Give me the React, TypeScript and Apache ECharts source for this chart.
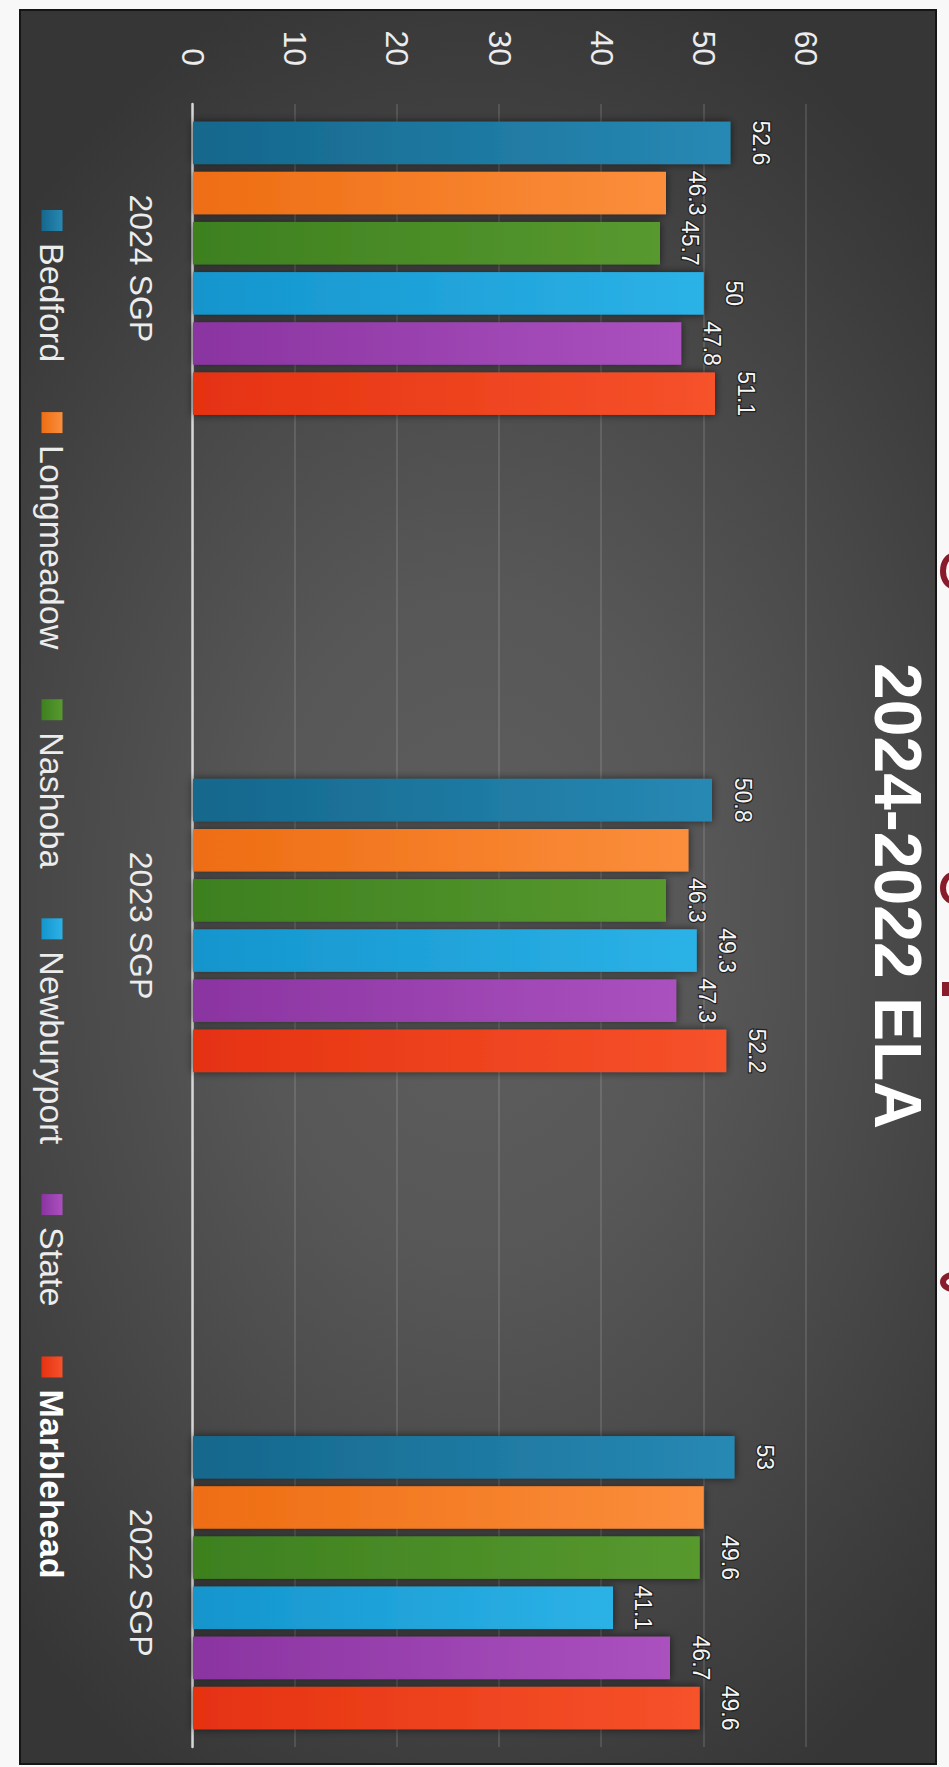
import React, { useEffect, useRef } from "react";
import * as echarts from "echarts";

// ---------- data ----------
const titleText = "2024-2022 ELA";
const categories = ["2024 SGP", "2023 SGP", "2022 SGP"];
const seriesNames = ["Bedford", "Longmeadow", "Nashoba", "Newburyport", "State", "Marblehead"];
const bedford = [52.6, 50.8, 53];
const longmeadow = [46.3, 48.5, 50.0];
const nashoba = [45.7, 46.3, 49.6];
const newburyport = [50, 49.3, 41.1];
const state = [47.8, 47.3, 46.7];
const marblehead = [51.1, 52.2, 49.6];
const valueTicks = [0, 10, 20, 30, 40, 50, 60];
// value labels that are not printed in the original (series, category index)
const hiddenLabels: [string, number][] = [
  ["Longmeadow", 1],
  ["Longmeadow", 2],
];

const seriesValues = [bedford, longmeadow, nashoba, newburyport, state, marblehead];

// ---------- style ----------
const FONT = '"Liberation Sans", Arial, Helvetica, sans-serif';
const barColors: [string, string][] = [
  ["#2789b4", "#15678c"],
  ["#fb8e3c", "#ee6d12"],
  ["#58992f", "#3d801f"],
  ["#2cb2e7", "#1495cd"],
  ["#ab51bf", "#8a34a1"],
  ["#f6522b", "#e53211"],
];

function buildOption(): any {
  const series = seriesNames.map((name, si) => ({
    type: "bar",
    name,
    barWidth: 42.5,
    barGap: "18%",
    data: seriesValues[si].map((v, ci) => {
      const hidden = hiddenLabels.some(([n, c]) => n === name && c === ci);
      const d: any = { value: [ci, v] };
      if (hidden) d.label = { show: false };
      return d;
    }),
    itemStyle: {
      color: {
        type: "linear",
        x: 0,
        y: 0,
        x2: 0,
        y2: 1,
        colorStops: [
          { offset: 0, color: barColors[si][0] },
          { offset: 1, color: barColors[si][1] },
        ],
      },
      shadowBlur: 8,
      shadowColor: "rgba(0,0,0,0.6)",
    },
    label: {
      show: true,
      position: "top",
      distance: 19,
      fontFamily: FONT,
      fontSize: 23,
      color: "#f4f4f4",
      textBorderColor: "rgba(25,25,25,0.85)",
      textBorderWidth: 2.5,
      formatter: (p: any) => String(p.value[1]),
    },
  }));

  return {
    animation: false,
    backgroundColor: "transparent",
    textStyle: { fontFamily: FONT },
    grid: {
      left: 104,
      right: 20,
      top: 143,
      bottom: 193,
      containLabel: false,
      outerBoundsMode: "none",
    },
    xAxis: {
      type: "value",
      min: -0.25,
      max: 2.25,
      interval: 0.25,
      position: "bottom",
      axisLine: { show: true, onZero: false, lineStyle: { color: "#d6d6d6", width: 2.5 } },
      axisTick: { show: false },
      splitLine: { show: false },
      axisLabel: {
        margin: 36,
        fontSize: 32,
        fontFamily: FONT,
        color: "#ececec",
        showMinLabel: true,
        showMaxLabel: true,
        formatter: (v: number) => {
          const i = Math.round(v);
          return Math.abs(v - i) < 1e-6 && categories[i] ? categories[i] : "";
        },
      },
    },
    yAxis: {
      type: "value",
      min: valueTicks[0],
      max: valueTicks[valueTicks.length - 1],
      interval: valueTicks[1] - valueTicks[0],
      axisLine: { show: false },
      axisTick: { show: false },
      splitLine: { show: true, lineStyle: { color: "rgba(255,255,255,0.16)", width: 1.5 } },
      axisLabel: {
        margin: 38,
        fontSize: 32,
        fontFamily: FONT,
        color: "#ececec",
        formatter: (v: number) => String(v),
      },
    },
    legend: {
      left: 210,
      top: 879,
      orient: "horizontal",
      padding: 0,
      itemWidth: 21,
      itemHeight: 21,
      itemGap: 50,
      icon: "rect",
      textStyle: {
        color: "#ececec",
        fontSize: 34,
        fontFamily: FONT,
        lineHeight: 36,
        padding: [0, 0, 0, 7],
      },
      data: seriesNames.map((n) =>
        n === "Marblehead"
          ? {
              name: n,
              textStyle: {
                color: "#ffffff",
                fontWeight: "bold",
                fontSize: 34,
                fontFamily: FONT,
                lineHeight: 36,
                padding: [0, 0, 0, 7],
              },
            }
          : n
      ),
    },
    graphic: [
      {
        type: "text",
        x: 896,
        y: 51,
        z: 10,
        style: {
          text: titleText,
          fill: "#ffffff",
          fontSize: 66,
          fontWeight: "bold",
          fontFamily: FONT,
          align: "center",
          verticalAlign: "middle",
          shadowColor: "rgba(0,0,0,0.8)",
          shadowBlur: 4,
        },
      },
    ],
    series,
  };
}

// dark-red scraps of the next slide peeking in at the right edge of the photo
const scraps = [
  { top: 553, height: 36, ring: true },
  { top: 872, height: 32, ring: true },
  { top: 982, height: 14, ring: false },
  { top: 1272, height: 20, ring: true },
];

export default function App() {
  const ref = useRef<HTMLDivElement>(null);
  useEffect(() => {
    if (!ref.current) return;
    const chart = echarts.init(ref.current, undefined, { renderer: "svg" });
    chart.setOption(buildOption());
    return () => {
      chart.dispose();
    };
  }, []);

  return (
    <div
      style={{
        position: "absolute",
        left: 0,
        top: 0,
        width: 949,
        height: 1767,
        overflow: "hidden",
        background: "#f8f8f8",
      }}
    >
      <div
        style={{
          position: "absolute",
          left: 19,
          top: 9,
          width: 918,
          height: 1756,
          boxSizing: "border-box",
          border: "2px solid #151515",
          background:
            "radial-gradient(ellipse 72% 56% at 50% 52%, #5f5f5f 0%, #575757 35%, #474747 68%, #363636 100%)",
        }}
      />
      {scraps.map((s, i) => (
        <div
          key={i}
          style={{
            position: "absolute",
            left: s.ring ? 940 : 942,
            top: s.top,
            width: s.ring ? 26 : 14,
            height: s.height,
            boxSizing: "border-box",
            borderRadius: s.ring ? "50%" : 0,
            border: s.ring ? "6px solid #8a1b2a" : "none",
            background: s.ring ? "transparent" : "#8a1b2a",
          }}
        />
      ))}
      <div
        ref={ref}
        style={{
          position: "absolute",
          left: 0,
          top: 0,
          width: 1767,
          height: 949,
          transformOrigin: "0 0",
          transform: "translate(949px, 0px) rotate(90deg)",
        }}
      />
    </div>
  );
}
